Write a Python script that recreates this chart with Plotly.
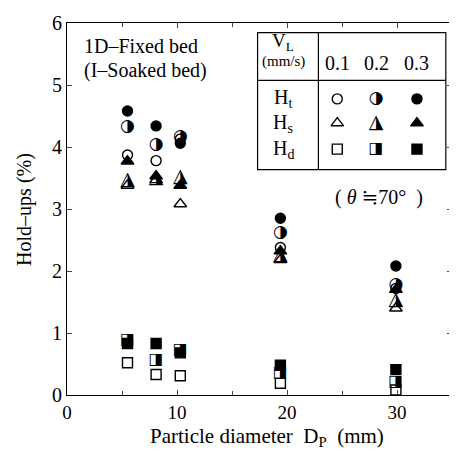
import plotly.graph_objects as go

# ---------------- data ----------------
dp = [5.5, 8.1, 10.3, 19.4, 29.9]          # particle diameter (mm)
vl_labels = ["0.1", "0.2", "0.3"]

ht_01 = [3.87, 3.78, 4.13, 2.38, 1.72]
ht_02 = [4.33, 4.03, 4.17, 2.62, 1.78]
ht_03 = [4.58, 4.34, 4.06, 2.85, 2.08]

hs_01 = [3.38, 3.47, 3.08, 2.18, 1.40]
hs_02 = [3.47, 3.50, 3.52, 2.25, 1.53]
hs_03 = [3.77, 3.53, 3.38, 2.32, 1.70]

hd_01 = [0.52, 0.33, 0.31, 0.19, 0.08]
hd_02 = [0.88, 0.57, 0.72, 0.35, 0.21]
hd_03 = [0.83, 0.83, 0.68, 0.48, 0.41]

x_ticks = [0, 10, 20, 30]
y_ticks = [0, 1, 2, 3, 4, 5, 6]

FONT = "Liberation Serif, DejaVu Serif, serif"
GLYPH_FONT = "DejaVu Sans"
MS = {"circle": 10, "triangle": 11, "square": 10}

fig = go.Figure()

def marker_trace(y, symbol, xa="x", ya="y", xv=None):
    size = MS[symbol.split("-")[0]]
    return go.Scatter(
        x=xv if xv is not None else dp, y=y, mode="markers", xaxis=xa, yaxis=ya,
        marker=dict(symbol=symbol, size=size, color="black",
                    line=dict(color="black", width=1.4)),
        showlegend=False, hoverinfo="skip")

def glyph_trace(y, glyph, size, xa="x", ya="y", xv=None):
    xs = xv if xv is not None else dp
    return go.Scatter(
        x=xs, y=y, mode="text", xaxis=xa, yaxis=ya,
        text=[glyph] * len(xs), textposition="middle center",
        textfont=dict(family=GLYPH_FONT, size=size, color="black"),
        showlegend=False, hoverinfo="skip")

series = [
    (ht_01, "circle-open", None), (ht_02, None, "\u25D1"), (ht_03, "circle", None),
    (hs_01, "triangle-up-open", None), (hs_02, None, "\u25EE"), (hs_03, "triangle-up", None),
    (hd_01, "square-open", None), (hd_02, None, "\u25E8"), (hd_03, "square", None),
]
GLYPH_SIZE = {"\u25D1": 17, "\u25EE": 19, "\u25E8": 16}

for yv, sym, gl in series:
    if sym:
        fig.add_trace(marker_trace(yv, sym))
    else:
        fig.add_trace(glyph_trace(yv, gl, GLYPH_SIZE[gl]))

# ---------------- legend table (paper-like overlay axes) ----------------
key_x = [0.702, 0.803, 0.909]
row_y = [0.796, 0.731, 0.661]
row_syms = [("circle-open", "\u25D1", "circle"),
            ("triangle-up-open", "\u25EE", "triangle-up"),
            ("square-open", "\u25E8", "square")]
for ry, syms in zip(row_y, row_syms):
    for kx, s in zip(key_x, syms):
        if len(s) == 1:
            fig.add_trace(glyph_trace([ry], s, GLYPH_SIZE[s], "x2", "y2", [kx]))
        else:
            fig.add_trace(marker_trace([ry], s, "x2", "y2", [kx]))

fig.update_layout(
    width=449, height=444,
    margin=dict(l=59, r=4, t=4, b=57),
    paper_bgcolor="white", plot_bgcolor="white",
    font=dict(family=FONT, size=20, color="black"),
    xaxis=dict(range=[0, 35], tickvals=x_ticks, ticks="inside", ticklen=5,
               showline=True, linecolor="black", linewidth=1.2, mirror="ticks",
               showgrid=False, zeroline=False, tickfont=dict(size=19),
               minor=dict(tickvals=[5, 15, 25], ticks="inside", ticklen=4)),
    yaxis=dict(range=[0, 6], tickvals=y_ticks, ticks="inside", ticklen=5,
               showline=True, linecolor="black", linewidth=1.2, mirror="ticks",
               showgrid=False, zeroline=False, tickfont=dict(size=20),
               ticklabeloverflow="allow"),
    xaxis2=dict(range=[0, 1], overlaying="x", visible=False),
    yaxis2=dict(range=[0, 1], overlaying="y", visible=False),
)

# table frame
fig.add_shape(type="rect", xref="paper", yref="paper", x0=0.495, x1=0.984,
              y0=0.606, y1=0.974, line=dict(color="black", width=1.2))
fig.add_shape(type="line", xref="paper", yref="paper", x0=0.653, x1=0.653,
              y0=0.606, y1=0.974, line=dict(color="black", width=1.2))
fig.add_shape(type="line", xref="paper", yref="paper", x0=0.495, x1=0.984,
              y0=0.846, y1=0.846, line=dict(color="black", width=1.2))

def ann(text, x, y, size=20, xanchor="center", angle=0):
    fig.add_annotation(text=text, x=x, y=y, xref="paper", yref="paper",
                       showarrow=False, xanchor=xanchor, yanchor="middle",
                       textangle=angle,
                       font=dict(family=FONT, size=size, color="black"))

# axis titles
ann("Particle diameter\u00a0\u00a0D<sub>P</sub>\u00a0\u00a0(mm)", 0.52, -0.113, 21)
ann("Hold–ups (%)", -0.112, 0.50, 20, angle=-90)

# table texts
ann("V<sub>L</sub>", 0.562, 0.948, 19)
ann("(mm/s)", 0.562, 0.896, 15)
for kx, lab in zip(key_x, vl_labels):
    ann(lab, kx, 0.893, 20)
for ry, lab in zip(row_y, ["H<sub>t</sub>", "H<sub>s</sub>", "H<sub>d</sub>"]):
    ann(lab, 0.562, ry, 20)

ann("1D–Fixed bed", 0.039, 0.937, 20, "left")
ann("(I–Soaked bed)", 0.039, 0.872, 20, "left")
ann("( <i>θ</i> ≒70°\u00a0\u00a0)", 0.811, 0.530, 20)

fig.write_html("out.html")
